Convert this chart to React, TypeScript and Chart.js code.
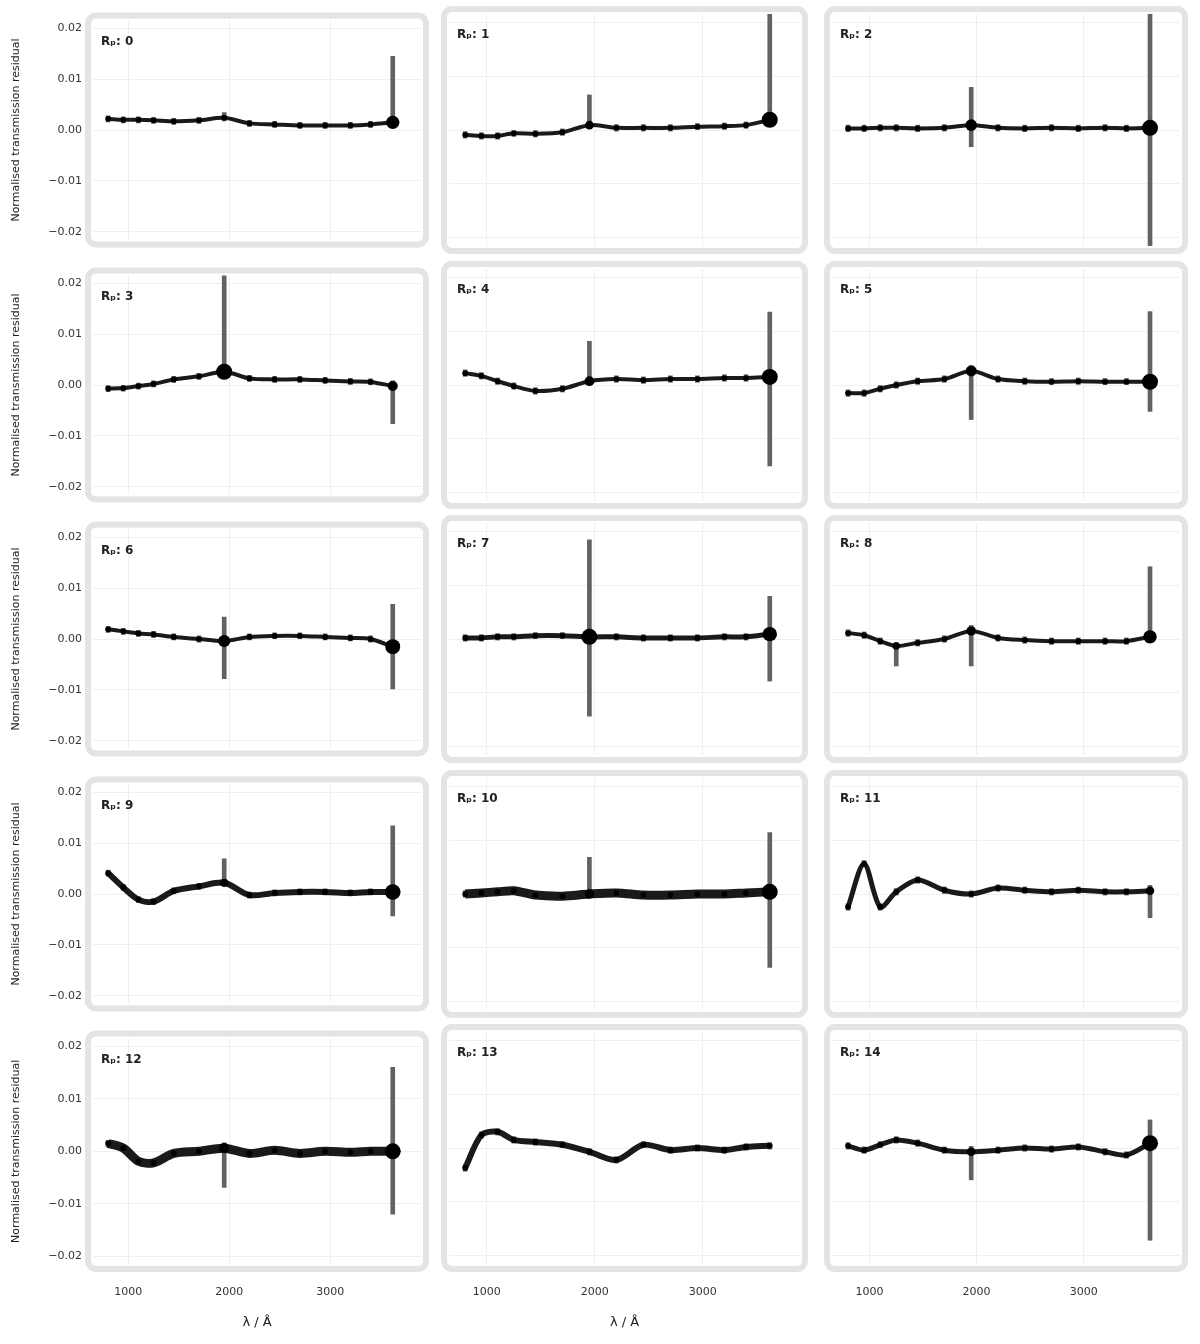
import React, { useEffect, useRef } from "react";
import { Chart, registerables } from "chart.js";

Chart.register(...registerables);

// ---------------- data ----------------
const xPositions = [800, 950, 1100, 1250, 1450, 1700, 1950, 2200, 2450, 2700, 2950, 3200, 3400, 3620];
const xTickValues = [1000, 2000, 3000];
const yTickValues = [-0.02, -0.01, 0, 0.01, 0.02];
const panelTitles = [
  "Rₚ: 0", "Rₚ: 1", "Rₚ: 2", "Rₚ: 3", "Rₚ: 4", "Rₚ: 5", "Rₚ: 6", "Rₚ: 7",
  "Rₚ: 8", "Rₚ: 9", "Rₚ: 10", "Rₚ: 11", "Rₚ: 12", "Rₚ: 13", "Rₚ: 14",
];
const xAxisTitle = "λ / Å";
const yAxisTitle = "Normalised transmission residual";

const residuals: number[][] = [
  [0.0022, 0.002, 0.002, 0.0019, 0.0017, 0.0019, 0.0024, 0.0013, 0.0011, 0.0009, 0.0009, 0.0009, 0.0011, 0.0015],
  [-0.0009, -0.0011, -0.0011, -0.0006, -0.0007, -0.0004, 0.0009, 0.0004, 0.0004, 0.0004, 0.0006, 0.0007, 0.0009, 0.0019],
  [0.0003, 0.0003, 0.0004, 0.0004, 0.0003, 0.0004, 0.0009, 0.0004, 0.0003, 0.0004, 0.0003, 0.0004, 0.0003, 0.0004],
  [-0.0007, -0.0006, -0.0002, 0.0002, 0.0011, 0.0017, 0.0026, 0.0013, 0.0011, 0.0011, 0.0009, 0.0007, 0.0006, -0.0002],
  [0.0022, 0.0017, 0.0007, -0.0002, -0.0011, -0.0007, 0.0007, 0.0011, 0.0009, 0.0011, 0.0011, 0.0013, 0.0013, 0.0015],
  [-0.0015, -0.0015, -0.0007, 0.0, 0.0007, 0.0011, 0.0026, 0.0011, 0.0007, 0.0006, 0.0007, 0.0006, 0.0006, 0.0006],
  [0.0019, 0.0015, 0.0011, 0.0009, 0.0004, 0.0, -0.0004, 0.0004, 0.0006, 0.0006, 0.0004, 0.0002, 0.0, -0.0015],
  [0.0002, 0.0002, 0.0004, 0.0004, 0.0006, 0.0006, 0.0004, 0.0004, 0.0002, 0.0002, 0.0002, 0.0004, 0.0004, 0.0009],
  [0.0011, 0.0007, -0.0004, -0.0013, -0.0007, 0.0, 0.0015, 0.0002, -0.0002, -0.0004, -0.0004, -0.0004, -0.0004, 0.0004],
  [0.0041, 0.0013, -0.0011, -0.0015, 0.0006, 0.0015, 0.0022, -0.0002, 0.0002, 0.0004, 0.0004, 0.0002, 0.0004, 0.0004],
  [0.0, 0.0002, 0.0004, 0.0006, -0.0002, -0.0004, 0.0, 0.0002, -0.0002, -0.0002, 0.0, 0.0, 0.0002, 0.0004],
  [-0.0024, 0.0056, -0.0024, 0.0004, 0.0026, 0.0007, 0.0, 0.0011, 0.0007, 0.0004, 0.0007, 0.0004, 0.0004, 0.0006],
  [0.0015, 0.0006, -0.0019, -0.0022, -0.0004, 0.0, 0.0006, -0.0004, 0.0002, -0.0004, 0.0, -0.0002, 0.0, 0.0],
  [-0.0037, 0.0024, 0.003, 0.0015, 0.0011, 0.0006, -0.0007, -0.0022, 0.0006, -0.0004, 0.0, -0.0004, 0.0002, 0.0004],
  [0.0004, -0.0004, 0.0006, 0.0015, 0.0009, -0.0004, -0.0007, -0.0004, 0.0, -0.0002, 0.0002, -0.0007, -0.0013, 0.0009],
];

const errUpper: number[][] = [
  [0.0006, 0.0006, 0.0006, 0.0006, 0.0006, 0.0006, 0.001, 0.0006, 0.0006, 0.0006, 0.0006, 0.0006, 0.0006, 0.013],
  [0.0006, 0.0006, 0.0006, 0.0006, 0.0006, 0.0006, 0.0056, 0.0006, 0.0006, 0.0006, 0.0006, 0.0006, 0.0006, 0.02],
  [0.0006, 0.0006, 0.0006, 0.0006, 0.0006, 0.0006, 0.007, 0.0006, 0.0006, 0.0006, 0.0006, 0.0006, 0.0006, 0.025],
  [0.0006, 0.0006, 0.0006, 0.0006, 0.0006, 0.0006, 0.025, 0.0006, 0.0006, 0.0006, 0.0006, 0.0006, 0.0006, 0.001],
  [0.0006, 0.0006, 0.0006, 0.0006, 0.0006, 0.0006, 0.0074, 0.0006, 0.0006, 0.0006, 0.0006, 0.0006, 0.0006, 0.012],
  [0.0006, 0.0006, 0.0006, 0.0006, 0.0006, 0.0006, 0.001, 0.0006, 0.0006, 0.0006, 0.0006, 0.0006, 0.0006, 0.013],
  [0.0006, 0.0006, 0.0006, 0.0006, 0.0006, 0.0006, 0.0047, 0.0006, 0.0006, 0.0006, 0.0006, 0.0006, 0.0006, 0.0083],
  [0.0006, 0.0006, 0.0006, 0.0006, 0.0006, 0.0006, 0.018, 0.0006, 0.0006, 0.0006, 0.0006, 0.0006, 0.0006, 0.007],
  [0.0006, 0.0006, 0.0006, 0.0006, 0.0006, 0.0006, 0.001, 0.0006, 0.0006, 0.0006, 0.0006, 0.0006, 0.0006, 0.013],
  [0.0006, 0.0006, 0.0006, 0.0006, 0.0006, 0.0006, 0.0047, 0.0006, 0.0006, 0.0006, 0.0006, 0.0006, 0.0006, 0.013],
  [0.0006, 0.0006, 0.0006, 0.0006, 0.0006, 0.0006, 0.0068, 0.0006, 0.0006, 0.0006, 0.0006, 0.0006, 0.0006, 0.011],
  [0.0006, 0.0006, 0.0006, 0.0006, 0.0006, 0.0006, 0.0006, 0.0006, 0.0006, 0.0006, 0.0006, 0.0006, 0.0006, 0.001],
  [0.0006, 0.0006, 0.0006, 0.0006, 0.0006, 0.0006, 0.001, 0.0006, 0.0006, 0.0006, 0.0006, 0.0006, 0.0006, 0.016],
  [0.0006, 0.0006, 0.0006, 0.0006, 0.0006, 0.0006, 0.0006, 0.0006, 0.0006, 0.0006, 0.0006, 0.0006, 0.0006, 0.0006],
  [0.0006, 0.0006, 0.0006, 0.0006, 0.0006, 0.0006, 0.001, 0.0006, 0.0006, 0.0006, 0.0006, 0.0006, 0.0006, 0.0043],
];

const errLower: number[][] = [
  [0.0006, 0.0006, 0.0006, 0.0006, 0.0006, 0.0006, 0.0006, 0.0006, 0.0006, 0.0006, 0.0006, 0.0006, 0.0006, 0.001],
  [0.0006, 0.0006, 0.0006, 0.0006, 0.0006, 0.0006, 0.0006, 0.0006, 0.0006, 0.0006, 0.0006, 0.0006, 0.0006, 0.001],
  [0.0006, 0.0006, 0.0006, 0.0006, 0.0006, 0.0006, 0.004, 0.0006, 0.0006, 0.0006, 0.0006, 0.0006, 0.0006, 0.025],
  [0.0006, 0.0006, 0.0006, 0.0006, 0.0006, 0.0006, 0.0006, 0.0006, 0.0006, 0.0006, 0.0006, 0.0006, 0.0006, 0.0074],
  [0.0006, 0.0006, 0.0006, 0.0006, 0.0006, 0.0006, 0.0006, 0.0006, 0.0006, 0.0006, 0.0006, 0.0006, 0.0006, 0.0165],
  [0.0006, 0.0006, 0.0006, 0.0006, 0.0006, 0.0006, 0.009, 0.0006, 0.0006, 0.0006, 0.0006, 0.0006, 0.0006, 0.0055],
  [0.0006, 0.0006, 0.0006, 0.0006, 0.0006, 0.0006, 0.0074, 0.0006, 0.0006, 0.0006, 0.0006, 0.0006, 0.0006, 0.0083],
  [0.0006, 0.0006, 0.0006, 0.0006, 0.0006, 0.0006, 0.0147, 0.0006, 0.0006, 0.0006, 0.0006, 0.0006, 0.0006, 0.0087],
  [0.0006, 0.0006, 0.0006, 0.0037, 0.0006, 0.0006, 0.0065, 0.0006, 0.0006, 0.0006, 0.0006, 0.0006, 0.0006, 0.001],
  [0.0006, 0.0006, 0.0006, 0.0006, 0.0006, 0.0006, 0.0006, 0.0006, 0.0006, 0.0006, 0.0006, 0.0006, 0.0006, 0.0047],
  [0.0006, 0.0006, 0.0006, 0.0006, 0.0006, 0.0006, 0.0006, 0.0006, 0.0006, 0.0006, 0.0006, 0.0006, 0.0006, 0.014],
  [0.0006, 0.0006, 0.0006, 0.0006, 0.0006, 0.0006, 0.0006, 0.0006, 0.0006, 0.0006, 0.0006, 0.0006, 0.0006, 0.005],
  [0.0006, 0.0006, 0.0006, 0.0006, 0.0006, 0.0006, 0.0075, 0.0006, 0.0006, 0.0006, 0.0006, 0.0006, 0.0006, 0.012],
  [0.0006, 0.0006, 0.0006, 0.0006, 0.0006, 0.0006, 0.0006, 0.0006, 0.0006, 0.0006, 0.0006, 0.0006, 0.0006, 0.0006],
  [0.0006, 0.0006, 0.0006, 0.0006, 0.0006, 0.0006, 0.0052, 0.0006, 0.0006, 0.0006, 0.0006, 0.0006, 0.0006, 0.018],
];

// ---------------- styling / layout ----------------
const panelLineWidth = [4, 4, 4, 4, 4, 4, 4, 5, 4, 6, 9, 5, 9, 6, 5];
const COL_CANVAS = [
  { left: 0, width: 432 },
  { left: 432, width: 384 },
  { left: 816, width: 384 },
];
const COL_PLOT = [
  { left: 93, right: 421 },
  { left: 449, right: 800 },
  { left: 832, right: 1180 },
];
const FONT = '"DejaVu Sans", "Liberation Sans", sans-serif';

function Panel({ idx }: { idx: number }) {
  const ref = useRef<HTMLCanvasElement>(null);
  const row = Math.floor(idx / 3);
  const col = idx % 3;
  const cc = COL_CANVAS[col];
  const cp = COL_PLOT[col];
  const center = Math.round(130 + row * 254.5);
  const plotTop = center - 116;
  const plotBottom = center + 116;
  const canvasTop = center - 127;
  const canvasBottom = row === 4 ? 1344 : center + 127;
  const canvasHeight = canvasBottom - canvasTop;

  useEffect(() => {
    const vals = residuals[idx];
    const up = errUpper[idx];
    const dn = errLower[idx];
    const title = panelTitles[idx];
    const isLeft = col === 0;
    const isBottom = row === 4;
    const showXTitle = isBottom && col < 2;

    const decor = {
      id: "panelDecor",
      beforeDraw(chart: any) {
        const { ctx, chartArea: a } = chart;
        ctx.save();
        ctx.strokeStyle = "#e4e4e4";
        ctx.lineWidth = 6;
        ctx.beginPath();
        ctx.roundRect(a.left - 5, a.top - 5, a.right - a.left + 10, a.bottom - a.top + 10, 8);
        ctx.stroke();
        ctx.restore();
      },
      afterDatasetsDraw(chart: any) {
        const { ctx, chartArea: a } = chart;
        ctx.save();
        ctx.fillStyle = "#222";
        ctx.font = `bold 12px ${FONT}`;
        ctx.textBaseline = "middle";
        ctx.textAlign = "left";
        ctx.fillText(title, a.left + 8, a.top + 21);
        ctx.restore();
      },
    };

    const chart = new Chart(ref.current as HTMLCanvasElement, {
      type: "line",
      data: {
        datasets: [
          {
            type: "bar",
            data: xPositions.map((x, i) => ({ x, y: [vals[i] - dn[i], vals[i] + up[i]] })),
            backgroundColor: "#626262",
            barThickness: 4,
            order: 2,
          } as any,
          {
            type: "line",
            data: xPositions.map((x, i) => ({ x, y: vals[i] })),
            borderColor: "#1a1a1a",
            borderWidth: panelLineWidth[idx],
            tension: 0.3,
            pointRadius: (c: any) => {
              const i = c.dataIndex;
              return 2.5 + Math.min(5.5, (up[i] + dn[i]) * 300);
            },
            pointBackgroundColor: "#000",
            pointBorderWidth: 0,
            order: 1,
          } as any,
        ],
      },
      options: {
        animation: false,
        responsive: false,
        maintainAspectRatio: false,
        events: [],
        layout: {
          padding: {
            left: isLeft ? 0 : cp.left - cc.left,
            right: cc.left + cc.width - cp.right,
            top: plotTop - canvasTop,
            bottom: isBottom ? 0 : canvasBottom - plotBottom,
          },
        },
        plugins: { legend: { display: false }, tooltip: { enabled: false } },
        scales: {
          x: {
            type: "linear",
            min: 650,
            max: 3900,
            offset: false,
            border: { display: false },
            grid: { color: "#efefef", offset: false, drawTicks: false },
            afterBuildTicks: (axis: any) => {
              axis.ticks = xTickValues.map((v) => ({ value: v }));
            },
            afterFit: (axis: any) => {
              axis.height = isBottom ? canvasBottom - plotBottom : 0;
            },
            ticks: {
              display: isBottom,
              padding: 22,
              maxRotation: 0,
              color: "#333",
              font: { family: FONT, size: 11 },
              callback: (v: any) => String(v),
            },
            title: {
              display: showXTitle,
              text: xAxisTitle,
              color: "#222",
              font: { family: FONT, size: 13 },
              padding: { top: 0, bottom: 14 },
            },
          },
          y: {
            type: "linear",
            min: -0.0215,
            max: 0.0215,
            border: { display: false },
            grid: { color: "#efefef", drawTicks: false },
            afterBuildTicks: (axis: any) => {
              axis.ticks = yTickValues.map((v) => ({ value: v }));
            },
            afterFit: (axis: any) => {
              axis.width = isLeft ? cp.left - cc.left : 0;
            },
            ticks: {
              display: isLeft,
              padding: 11,
              color: "#333",
              font: { family: FONT, size: 11 },
              callback: (v: any) => {
                const n = Number(v);
                return (n < 0 ? "−" : "") + Math.abs(n).toFixed(2);
              },
            },
            title: {
              display: isLeft,
              text: yAxisTitle,
              color: "#222",
              font: { family: FONT, size: 11 },
              padding: { top: 10, bottom: 0 },
            },
          },
        },
      },
      plugins: [decor as any],
    } as any);
    return () => chart.destroy();
  }, []);

  return (
    <canvas
      ref={ref}
      width={cc.width}
      height={canvasHeight}
      style={{
        position: "absolute",
        left: cc.left,
        top: canvasTop,
        width: cc.width,
        height: canvasHeight,
      }}
    />
  );
}

export default function App() {
  return (
    <div
      style={{
        position: "absolute",
        left: 0,
        top: 0,
        width: 1200,
        height: 1344,
        background: "#fff",
        overflow: "hidden",
      }}
    >
      {panelTitles.map((_, i) => (
        <Panel key={i} idx={i} />
      ))}
    </div>
  );
}
